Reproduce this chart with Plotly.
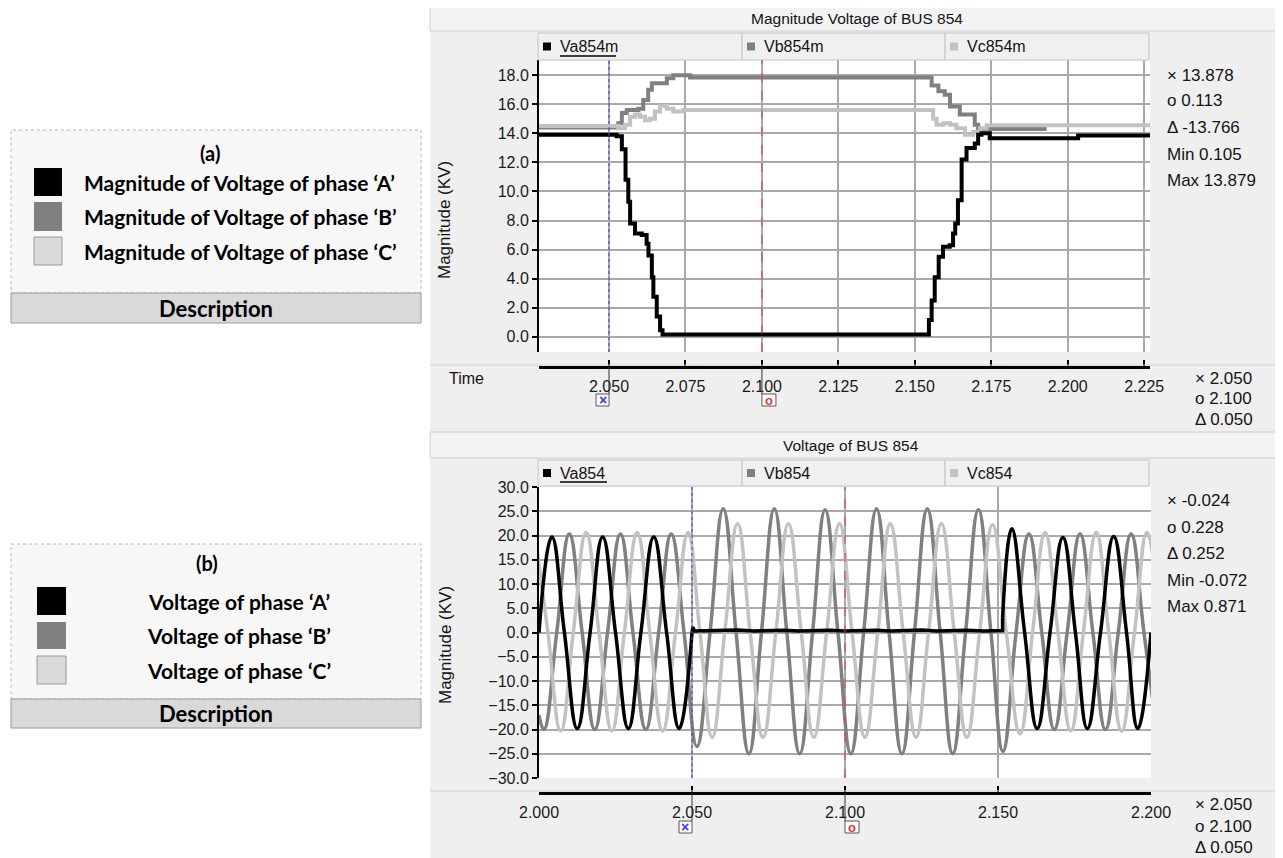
import plotly.graph_objects as go

# the page body adds an 8 px margin, so the figure is drawn 8 px smaller and shifted
OFF = 8
W, H = 1283 - OFF, 858 - OFF
def px(x): return (x - OFF) / W
def py(y): return 1 - (y - OFF) / H

FONT = "Liberation Sans, Arial, sans-serif"
DFONT = "Lato, Open Sans, sans-serif"
C_A, C_B, C_C = "#000000", "#808080", "#c2c2c2"

# ---------------- (a) Magnitude Voltage of BUS 854 (kV) ----------------
MAG_T_A = [2.0271, 2.0505, 2.0525, 2.0542, 2.0554, 2.0563, 2.0569, 2.0585, 2.0607, 2.0623, 2.0629,
           2.0640, 2.0645, 2.0656, 2.0667, 2.0675, 2.1541, 2.1546, 2.1555, 2.1565, 2.1578, 2.1592,
           2.1614, 2.1625, 2.1632, 2.1641, 2.1653, 2.1669, 2.1696, 2.1707, 2.1718, 2.1745, 2.2034, 2.2269]
MAG_A = [13.9, 13.9, 13.8, 12.9, 10.8, 9.3, 7.8, 7.1, 7.0, 6.4, 5.6,
         4.1, 2.75, 1.4, 0.45, 0.15, 0.15, 1.15, 2.5, 4.1, 5.5, 6.2,
         6.3, 7.1, 7.8, 9.4, 12.2, 13.0, 13.3, 13.9, 14.0, 13.66, 13.85, 13.85]

MAG_T_B = [2.0271, 2.0525, 2.0530, 2.0542, 2.0558, 2.0596, 2.0612, 2.0628, 2.0640, 2.0689, 2.0710,
           2.0765, 2.1533, 2.1555, 2.1577, 2.1598, 2.1615, 2.1647, 2.1696, 2.1707, 2.1931]
MAG_B = [14.4, 14.4, 14.7, 15.4, 15.6, 15.7, 16.3, 17.0, 17.45, 17.8, 18.0,
         17.85, 17.85, 17.3, 16.9, 16.65, 15.85, 15.3, 14.6, 14.3, 14.3]

MAG_T_C = [2.0271, 2.0525, 2.0530, 2.0552, 2.0569, 2.0585, 2.0601, 2.0618, 2.0634, 2.0650, 2.0667,
           2.0689, 2.0710, 2.0743, 2.1544, 2.1560, 2.1571, 2.1593, 2.1615, 2.1636, 2.1664, 2.1691,
           2.1713, 2.1735, 2.2269]
MAG_C = [14.5, 14.5, 14.35, 14.6, 15.15, 15.3, 15.15, 14.9, 15.0, 15.5, 15.9,
         15.7, 15.5, 15.6, 15.6, 15.0, 14.6, 14.7, 14.6, 14.35, 13.9, 14.1,
         14.35, 14.55, 14.55]

# ---------------- (b) Voltage of BUS 854 (kV) ----------------
WAVE_T_A_PRE = [2.0000, 2.0042, 2.0083, 2.0125, 2.0167, 2.0208, 2.0250, 2.0292, 2.0333, 2.0375,
                2.0417, 2.0458, 2.0500]
WAVE_A_PRE = [0.0, 19.7, 0.0, -19.8, 0.0, 19.7, 0.0, -19.8, 0.0, 19.7, 0.0, -19.8, 0.0]
WAVE_T_A_FAULT = [2.0500, 2.0503, 2.0508, 2.0600, 2.0650, 2.0700, 2.0800, 2.0850, 2.0950, 2.1000,
                  2.1100, 2.1150, 2.1250, 2.1300, 2.1400, 2.1450, 2.1515, 2.1515]
WAVE_A_FAULT = [0.0, 1.1, 0.3, 0.35, 0.5, 0.3, 0.45, 0.3, 0.45, 0.3,
                0.45, 0.3, 0.5, 0.3, 0.45, 0.3, 0.4, 3.0]
WAVE_T_A_POST = [2.1515, 2.1545, 2.1587, 2.1628, 2.1670, 2.1712, 2.1753, 2.1792, 2.1835, 2.1878,
                 2.1920, 2.1957, 2.2000]
WAVE_A_POST = [3.0, 21.4, 0.0, -19.8, 0.0, 19.6, 0.0, -19.8, 0.0, 19.8, 0.0, -19.8, 0.0]

WAVE_T_B = [2.0000, 2.0016, 2.0058, 2.0099, 2.0141, 2.0182, 2.0224, 2.0266, 2.0307, 2.0349,
            2.0391, 2.0432, 2.0474, 2.0516, 2.0559, 2.0602, 2.0644, 2.0686, 2.0727, 2.0769,
            2.0810, 2.0852, 2.0894, 2.0935, 2.0977, 2.1019, 2.1061, 2.1103, 2.1144, 2.1186,
            2.1227, 2.1269, 2.1311, 2.1352, 2.1394, 2.1436, 2.1477, 2.1516, 2.1559, 2.1601,
            2.1643, 2.1684, 2.1726, 2.1768, 2.1810, 2.1851, 2.1893, 2.1935, 2.1977, 2.2018]
WAVE_B = [-17.0, -20.0, 0.0, 20.3, 0.0, -20.0, 0.0, 20.3, 0.0, -20.0,
          0.0, 20.3, 0.0, -23.5, 0.0, 25.5, 0.0, -25.0, 0.0, 25.5,
          0.0, -25.0, 0.0, 25.3, 0.0, -25.0, 0.0, 25.5, 0.0, -25.0,
          0.0, 25.5, 0.0, -25.0, 0.0, 25.3, 0.0, -24.5, 0.0, 20.3,
          0.0, -20.0, 0.0, 20.3, 0.0, -20.0, 0.0, 20.3, 0.0, -20.0]

WAVE_T_C = [1.9987, 2.0029, 2.0071, 2.0112, 2.0154, 2.0196, 2.0238, 2.0279, 2.0321, 2.0362,
            2.0404, 2.0446, 2.0487, 2.0526, 2.0566, 2.0607, 2.0649, 2.0690, 2.0732, 2.0774,
            2.0815, 2.0857, 2.0898, 2.0940, 2.0982, 2.1023, 2.1065, 2.1107, 2.1148, 2.1190,
            2.1232, 2.1273, 2.1315, 2.1357, 2.1398, 2.1440, 2.1482, 2.1527, 2.1572, 2.1613,
            2.1654, 2.1696, 2.1738, 2.1779, 2.1821, 2.1862, 2.1904, 2.1946, 2.1987, 2.2029]
WAVE_C = [20.6, 0.0, -20.3, 0.0, 20.6, 0.0, -20.3, 0.0, 20.6, 0.0,
          -20.3, 0.0, 20.6, 0.0, -21.6, 0.0, 22.4, 0.0, -21.6, 0.0,
          22.4, 0.0, -21.6, 0.0, 22.4, 0.0, -21.6, 0.0, 22.4, 0.0,
          -21.6, 0.0, 22.4, 0.0, -21.6, 0.0, 22.2, 0.0, -20.9, 0.0,
          20.6, 0.0, -20.3, 0.0, 20.6, 0.0, -20.3, 0.0, 20.6, 0.0]

# cursors and readouts
CURSOR_X, CURSOR_O = 2.050, 2.100
TOP_SERIES = ["Va854m", "Vb854m", "Vc854m"]
BOT_SERIES = ["Va854", "Vb854", "Vc854"]
TOP_READOUT = ["\u00d7 13.878", "o 0.113", "\u0394 -13.766", "Min 0.105", "Max 13.879"]
BOT_READOUT = ["\u00d7 -0.024", "o 0.228", "\u0394 0.252", "Min -0.072", "Max 0.871"]
TIME_READOUT = ["\u00d7 2.050", "o 2.100", "\u0394 0.050"]
DESC_A = ["Magnitude of Voltage of phase \u2018A\u2019", "Magnitude of Voltage of phase \u2018B\u2019",
          "Magnitude of Voltage of phase \u2018C\u2019"]
DESC_B = ["Voltage of phase \u2018A\u2019", "Voltage of phase \u2018B\u2019", "Voltage of phase \u2018C\u2019"]

TOP_XR = [2.0271, 2.2269]
TOP_YR = [-1.05, 19.05]
BOT_XR = [2.000, 2.200]
BOT_YR = [-30.0, 30.0]

# pixel geometry (page pixels) of the two plot areas
TL, TR, TT, TB = 539, 1150, 60, 352
BL, BR, BT, BB = 539, 1151, 487, 778

fig = go.Figure()
for t, v, c in [(MAG_T_B, MAG_B, C_B), (MAG_T_C, MAG_C, C_C), (MAG_T_A, MAG_A, C_A)]:
    fig.add_trace(go.Scatter(x=t, y=v, mode="lines", line=dict(color=c, width=4, shape="hv"),
                             xaxis="x", yaxis="y", hoverinfo="skip"))
fig.add_trace(go.Scatter(x=WAVE_T_B, y=WAVE_B, mode="lines",
                         line=dict(color=C_B, width=3.5, shape="spline", smoothing=1.3),
                         xaxis="x2", yaxis="y2", hoverinfo="skip"))
fig.add_trace(go.Scatter(x=WAVE_T_C, y=WAVE_C, mode="lines",
                         line=dict(color=C_C, width=3.5, shape="spline", smoothing=1.3),
                         xaxis="x2", yaxis="y2", hoverinfo="skip"))
fig.add_trace(go.Scatter(x=WAVE_T_A_PRE, y=WAVE_A_PRE, mode="lines",
                         line=dict(color=C_A, width=3.5, shape="spline", smoothing=1.3),
                         xaxis="x2", yaxis="y2", hoverinfo="skip"))
fig.add_trace(go.Scatter(x=WAVE_T_A_FAULT, y=WAVE_A_FAULT, mode="lines",
                         line=dict(color=C_A, width=3.5),
                         xaxis="x2", yaxis="y2", hoverinfo="skip"))
fig.add_trace(go.Scatter(x=WAVE_T_A_POST, y=WAVE_A_POST, mode="lines",
                         line=dict(color=C_A, width=3.5, shape="spline", smoothing=1.3),
                         xaxis="x2", yaxis="y2", hoverinfo="skip"))

shapes = []
annotations = []

def rect(x0, y0, x1, y1, fill, line=None, lw=1, dash=None, layer="below"):
    shapes.append(dict(type="rect", xref="paper", yref="paper", x0=px(x0), x1=px(x1),
                       y0=py(y1), y1=py(y0), fillcolor=fill, layer=layer,
                       line=dict(color=line if line else "rgba(0,0,0,0)",
                                 width=lw if line else 0, dash=dash)))

def seg(x0, y0, x1, y1, color, w=1, dash=None, layer="above"):
    shapes.append(dict(type="line", xref="paper", yref="paper", x0=px(x0), x1=px(x1),
                       y0=py(y0), y1=py(y1), layer=layer,
                       line=dict(color=color, width=w, dash=dash)))

def text(x, y, s, size=15, xanchor="left", font=FONT, color="#141414", angle=0):
    annotations.append(dict(xref="paper", yref="paper", x=px(x), y=py(y), text=s,
                            showarrow=False, xanchor=xanchor, yanchor="middle",
                            textangle=angle, font=dict(family=font, size=size, color=color)))

def tx_top(t):
    return TL + (t - TOP_XR[0]) / (TOP_XR[1] - TOP_XR[0]) * (TR - TL)

def tx_bot(t):
    return BL + (t - BOT_XR[0]) / (BOT_XR[1] - BOT_XR[0]) * (BR - BL)

# ---- right hand instrument panel ----
rect(430, 4, 1283, 858, "#efefef")
rect(430, 6, 1283, 31, "#f3f3f3", line="#cfcfcf")
rect(430, 432, 1283, 458, "#f3f3f3", line="#cfcfcf")
rect(TL, TT, TR, TB, "#ffffff")
rect(BL, BT, BR, BB, "#ffffff")
seg(430, 365, 1283, 365, "#d4d4d4", 1)
seg(430, 791, 1283, 791, "#d4d4d4", 1)

# legend header cells
for row_y0, row_y1, names in [(33, 60, TOP_SERIES), (460, 486, BOT_SERIES)]:
    cells = [(538, 742), (742, 945), (945, 1149)]
    for (cx0, cx1), name, col in zip(cells, names, [C_A, C_B, C_C]):
        rect(cx0, row_y0, cx1, row_y1, "#f0f0f0", line="#c4c4c4", layer="above")
        cy = (row_y0 + row_y1) / 2
        rect(cx0 + 5, cy - 4, cx0 + 13, cy + 4, col, layer="above")
        text(cx0 + 20, cy, name, 16)
    uy = row_y1 - 4
    seg(560, uy, 560 + (56 if names is TOP_SERIES else 47), uy, "#000000", 1.5)

# cursor lines (a white underlay hides the grid line beneath each cursor)
for xa, top, bot in [("x", TT, TB), ("x2", BT, BB)]:
    for xv, col, dsh in [(CURSOR_X, "#3340ff", "dot"), (CURSOR_O, "#e03a3a", "dash")]:
        shapes.append(dict(type="line", xref=xa, yref="paper", x0=xv, x1=xv, layer="below",
                           y0=py(bot), y1=py(top), line=dict(color="#ffffff", width=2.5)))
        shapes.append(dict(type="line", xref=xa, yref="paper", x0=xv, x1=xv,
                           y0=py(bot), y1=py(top), line=dict(color=col, width=1, dash=dsh)))

# cursor tags below the time axes
for axis_y, box_y, fx in [(367, 394, tx_top), (793, 821, tx_bot)]:
    xc = fx(CURSOR_X)
    xo = fx(CURSOR_O)
    seg(xc, axis_y, xc, box_y, "#333333", 1)
    seg(xo, axis_y, xo, box_y, "#333333", 1)
    rect(xc - 13, box_y, xc, box_y + 12, "#ffffff", line="#555555", lw=1, layer="above")
    rect(xo, box_y, xo + 14, box_y + 12, "#ffffff", line="#555555", lw=1, layer="above")
    text(xc - 6.5, box_y + 6, "<b>\u00d7</b>", 14, "center", color="#2f3cff")
    text(xo + 7, box_y + 6, "<b>o</b>", 13, "center", color="#e03a3a")

# titles & labels
text(857, 19, "Magnitude Voltage of BUS 854", 15.5, "center")
text(851, 445, "Voltage of BUS 854", 15.5, "center")
text(445, 220, "Magnitude (KV)", 17, "center", angle=-90)
text(445, 645, "Magnitude (KV)", 17, "center", angle=-90)
text(466, 378, "Time", 16, "center")
for i, s in enumerate(TOP_READOUT):
    text(1165, [75, 100, 127, 154, 180][i], s, 17)
for i, s in enumerate(BOT_READOUT):
    text(1165, [500, 527, 553, 580, 606][i], s, 17)
for i, s in enumerate(TIME_READOUT):
    text(1193, [378, 399, 420][i], s, 17)
    text(1193, [804, 826, 847][i], s, 17)

# ---- left description boxes ----
rect(11, 130, 421, 293, "#f7f7f7", line="#b8b8b8", lw=1, dash="dot")
rect(11, 293, 421, 323, "#d9d9d9", line="#9a9a9a", lw=1)
text(210, 153, "<b>(a)</b>", 20, "center", font=DFONT, color="#000000")
text(216, 308, "<b>Description</b>", 22, "center", font=DFONT, color="#000000")
for (y0, y1), col, s in zip([(168, 196), (202, 231), (237, 265)], [C_A, C_B, "#d9d9d9"], DESC_A):
    rect(34, y0, 62, y1, col, line="#9a9a9a" if col == "#d9d9d9" else None, lw=1)
    text(82, (y0 + y1) / 2, "<b>" + s + "</b>", 21, "left", font=DFONT, color="#000000")

rect(11, 544, 421, 699, "#f7f7f7", line="#b8b8b8", lw=1, dash="dot")
rect(11, 699, 421, 728, "#d9d9d9", line="#9a9a9a", lw=1)
text(207, 563, "<b>(b)</b>", 20, "center", font=DFONT, color="#000000")
text(216, 713, "<b>Description</b>", 22, "center", font=DFONT, color="#000000")
for (y0, y1), col, s in zip([(587, 615), (622, 649), (656, 684)], [C_A, C_B, "#d9d9d9"], DESC_B):
    rect(37, y0, 66, y1, col, line="#9a9a9a" if col == "#d9d9d9" else None, lw=1)
    text(239, (y0 + y1) / 2, "<b>" + s + "</b>", 21, "center", font=DFONT, color="#000000")

tickfont = dict(family=FONT, size=16, color="#1a1a1a")
grid = dict(showgrid=True, gridcolor="#a9a9a9", gridwidth=1.5, zeroline=False, automargin=False)

fig.update_layout(
    width=W, height=H, margin=dict(l=0, r=0, t=0, b=0, pad=0, autoexpand=False),
    paper_bgcolor="#ffffff", plot_bgcolor="rgba(0,0,0,0)", showlegend=False,
    xaxis=dict(domain=[px(TL), px(TR)], range=TOP_XR, anchor="free", position=py(367),
               tick0=2.050, dtick=0.025, tickformat=".3f", ticks="inside", ticklen=6,
               tickwidth=1.5, tickcolor="#000", showline=True, linecolor="#000", linewidth=2.5,
               tickfont=tickfont, ticklabelstandoff=4, **grid),
    yaxis=dict(domain=[py(TB), py(TT)], range=TOP_YR, anchor="x", tick0=0, dtick=2,
               tickformat=".1f", ticks="outside", ticklen=5, tickwidth=1.5, tickcolor="#000",
               showline=True, linecolor="#000", linewidth=2, tickfont=tickfont, **grid),
    xaxis2=dict(domain=[px(BL), px(BR)], range=BOT_XR, anchor="free", position=py(793),
                tick0=2.0, dtick=0.05, tickformat=".3f", ticks="inside", ticklen=6,
                tickwidth=1.5, tickcolor="#000", showline=True, linecolor="#000", linewidth=2.5,
                tickfont=tickfont, ticklabelstandoff=4, **grid),
    yaxis2=dict(domain=[py(BB), py(BT)], range=BOT_YR, anchor="x2", tick0=0, dtick=5,
                tickformat=".1f", ticks="outside", ticklen=5, tickwidth=1.5, tickcolor="#000",
                showline=True, linecolor="#000", linewidth=2, tickfont=tickfont, **grid),
    shapes=shapes, annotations=annotations,
)

fig.write_html("out.html")
